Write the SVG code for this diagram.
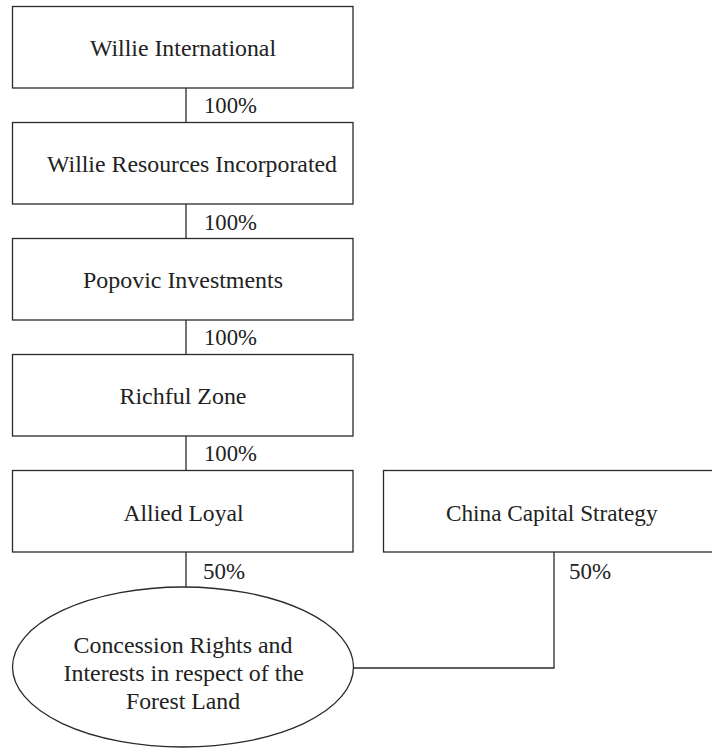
<svg xmlns="http://www.w3.org/2000/svg" width="712" height="748" viewBox="0 0 712 748">
<style>
.box{fill:#fff;stroke:#2a2a2a;stroke-width:1.3}
.ln{fill:none;stroke:#2a2a2a;stroke-width:1.3}
text{font-family:"Liberation Serif","Times New Roman",serif;font-size:23px;fill:#222}
</style>
<rect width="712" height="748" fill="#fff"/>
<g id="connectors">
<line class="ln" x1="186" y1="88" x2="186" y2="122"/>
<line class="ln" x1="186" y1="204" x2="186" y2="238"/>
<line class="ln" x1="186" y1="320" x2="186" y2="354"/>
<line class="ln" x1="186" y1="436" x2="186" y2="470"/>
<line class="ln" x1="186" y1="552" x2="186" y2="587"/>
<polyline class="ln" points="554,552 554,668 353,668"/>
<text x="204" y="113" textLength="53" lengthAdjust="spacingAndGlyphs">100%</text>
<text x="204" y="230" textLength="53" lengthAdjust="spacingAndGlyphs">100%</text>
<text x="204" y="345" textLength="53" lengthAdjust="spacingAndGlyphs">100%</text>
<text x="204" y="461" textLength="53" lengthAdjust="spacingAndGlyphs">100%</text>
<text x="203" y="579" textLength="42" lengthAdjust="spacingAndGlyphs">50%</text>
<text x="569" y="579" textLength="42" lengthAdjust="spacingAndGlyphs">50%</text>
</g>
<g id="willie-international">
<rect class="box" x="12.5" y="6.5" width="340.5" height="81.5"/>
<text x="90" y="56" textLength="186" lengthAdjust="spacingAndGlyphs">Willie International</text>
</g>
<g id="willie-resources">
<rect class="box" x="12.5" y="122.5" width="340.5" height="81.5"/>
<text x="47" y="172" textLength="290" lengthAdjust="spacingAndGlyphs">Willie Resources Incorporated</text>
</g>
<g id="popovic">
<rect class="box" x="12.5" y="238.5" width="340.5" height="81.5"/>
<text x="83" y="288" textLength="200" lengthAdjust="spacingAndGlyphs">Popovic Investments</text>
</g>
<g id="richful">
<rect class="box" x="12.5" y="354.5" width="340.5" height="81.5"/>
<text x="119.5" y="404" textLength="127" lengthAdjust="spacingAndGlyphs">Richful Zone</text>
</g>
<g id="allied">
<rect class="box" x="12.5" y="470.5" width="340.5" height="81.5"/>
<text x="123.5" y="521" textLength="120" lengthAdjust="spacingAndGlyphs">Allied Loyal</text>
</g>
<g id="china-capital">
<rect class="box" x="383.5" y="470.5" width="340" height="81.5"/>
<text x="446" y="521" textLength="211.5" lengthAdjust="spacingAndGlyphs">China Capital Strategy</text>
</g>
<g id="concession">
<ellipse class="box" cx="183" cy="667" rx="170.5" ry="80"/>
<text x="73.5" y="653" textLength="219" lengthAdjust="spacingAndGlyphs">Concession Rights and</text>
<text x="63.5" y="681" textLength="240.5" lengthAdjust="spacingAndGlyphs">Interests in respect of the</text>
<text x="126" y="709" textLength="114" lengthAdjust="spacingAndGlyphs">Forest Land</text>
</g>
</svg>
